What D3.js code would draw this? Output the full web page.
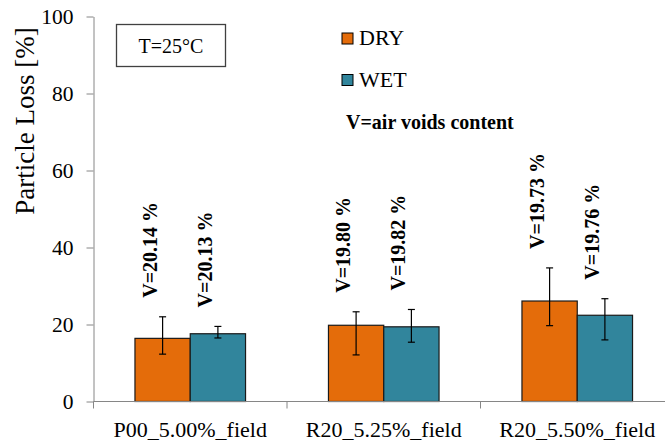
<!DOCTYPE html>
<html>
<head>
<meta charset="utf-8">
<script src="https://cdn.jsdelivr.net/npm/d3@7"></script>
<style>
  html, body { margin: 0; padding: 0; background: #fff; }
  svg { display: block; }
  text { font-family: "Liberation Serif", "Times New Roman", serif; fill: #000; }
</style>
</head>
<body>
<svg id="chart" width="665" height="443"></svg>
<script>
// Mix designs on the category axis
const categories = ["P00_5.00%_field", "R20_5.25%_field", "R20_5.50%_field"];
const seriesNames = ["DRY", "WET"];

// Mean particle loss [%] per mix
const dryValues = [16.4, 19.8, 26.1];
const wetValues = [17.6, 19.4, 22.4];

// Error bar limits [%]
const dryHigh = [22.0, 23.3, 34.7];
const dryLow  = [12.3, 12.1, 19.7];
const wetHigh = [19.5, 23.9, 26.7];
const wetLow  = [16.5, 15.4, 16.0];

// Air voids content printed above each bar
const dryVoids = ["V=20.14 %", "V=19.80 %", "V=19.73 %"];
const wetVoids = ["V=20.13 %", "V=19.82 %", "V=19.76 %"];

const yTicks = [0, 20, 40, 60, 80, 100];

const colors = { DRY: "#E46C0A", WET: "#31859C" };
const axisColor = "#868686";

const rows = [];
categories.forEach((c, i) => {
  rows.push({ cat: c, series: "DRY", value: dryValues[i], hi: dryHigh[i], lo: dryLow[i], label: dryVoids[i] });
  rows.push({ cat: c, series: "WET", value: wetValues[i], hi: wetHigh[i], lo: wetLow[i], label: wetVoids[i] });
});

const svg = d3.select("#chart");

const plotLeft = 93.5, plotBottom = 401.5, plotTop = 16.5;
const step = 193.5;

const x = d3.scaleBand().domain(categories).range([plotLeft, plotLeft + step * categories.length]).padding(0);
const xs = d3.scaleBand().domain(seriesNames).range([0, x.bandwidth()]).paddingInner(0).paddingOuter(0.75);
const y = d3.scaleLinear().domain([0, 100]).range([plotBottom, plotTop]);

// Y axis
const yAxis = svg.append("g")
  .attr("transform", `translate(${plotLeft},0)`)
  .call(d3.axisLeft(y).tickValues(yTicks).tickSize(7).tickSizeOuter(0).tickPadding(13));
yAxis.select(".domain").attr("stroke", axisColor);
yAxis.selectAll(".tick line").attr("stroke", axisColor);
yAxis.selectAll(".tick text")
  .attr("font-size", 21.5)
  .attr("fill", "#000");

// Y axis title
svg.append("text")
  .attr("transform", `translate(34,121) rotate(-90)`)
  .attr("text-anchor", "middle")
  .attr("font-size", 27)
  .text("Particle Loss [%]");

// Bars
svg.append("g").selectAll("rect")
  .data(rows)
  .join("rect")
  .attr("x", d => x(d.cat) + xs(d.series))
  .attr("y", d => y(d.value))
  .attr("width", xs.bandwidth())
  .attr("height", d => y(0) - y(d.value))
  .attr("fill", d => colors[d.series])
  .attr("stroke", "#1a1a1a")
  .attr("stroke-width", 1.2);

// Error bars
const err = svg.append("g").attr("stroke", "#000").attr("stroke-width", 1.2);
rows.forEach(d => {
  const cx = x(d.cat) + xs(d.series) + xs.bandwidth() / 2;
  err.append("line").attr("x1", cx).attr("x2", cx).attr("y1", y(d.hi)).attr("y2", y(d.lo));
  err.append("line").attr("x1", cx - 3.5).attr("x2", cx + 3.5).attr("y1", y(d.hi)).attr("y2", y(d.hi));
  err.append("line").attr("x1", cx - 3.5).attr("x2", cx + 3.5).attr("y1", y(d.lo)).attr("y2", y(d.lo));
});

// Air voids labels, vertical, above each error bar
svg.append("g").selectAll("text")
  .data(rows)
  .join("text")
  .attr("transform", d => {
    const cx = x(d.cat) + xs(d.series) + xs.bandwidth() / 2;
    return `translate(${cx - 6},${y(d.hi) - 19}) rotate(-90)`;
  })
  .attr("text-anchor", "start")
  .attr("font-size", 20)
  .attr("font-weight", "bold")
  .text(d => d.label);

// X axis line (runs to the right edge)
svg.append("line")
  .attr("x1", plotLeft).attr("x2", 665)
  .attr("y1", plotBottom).attr("y2", plotBottom)
  .attr("stroke", axisColor);

// Category boundary ticks
const bounds = categories.map(c => x(c)).concat([x(categories[categories.length - 1]) + x.bandwidth()]);
svg.append("g").selectAll("line")
  .data(bounds)
  .join("line")
  .attr("x1", d => d).attr("x2", d => d)
  .attr("y1", plotBottom).attr("y2", plotBottom + 7)
  .attr("stroke", axisColor);

// Category labels
svg.append("g").selectAll("text")
  .data(categories)
  .join("text")
  .attr("x", d => x(d) + x.bandwidth() / 2)
  .attr("y", 437)
  .attr("text-anchor", "middle")
  .attr("font-size", 22)
  .text(d => d);

// Temperature box
svg.append("rect")
  .attr("x", 116.5).attr("y", 24.5)
  .attr("width", 109).attr("height", 42)
  .attr("fill", "#fff")
  .attr("stroke", "#404040")
  .attr("stroke-width", 1.3);
svg.append("text")
  .attr("x", 171).attr("y", 52.5)
  .attr("text-anchor", "middle")
  .attr("font-size", 20)
  .text("T=25°C");

// Legend
const legend = svg.append("g");
seriesNames.forEach((s, i) => {
  const ly = 33 + i * 41.5;
  legend.append("rect")
    .attr("x", 342).attr("y", ly)
    .attr("width", 11).attr("height", 11)
    .attr("fill", colors[s])
    .attr("stroke", "#000")
    .attr("stroke-width", 1);
  legend.append("text")
    .attr("x", 359).attr("y", ly + 12)
    .attr("font-size", 22)
    .text(s);
});
legend.append("text")
  .attr("x", 346).attr("y", 128.5)
  .attr("font-size", 20)
  .attr("font-weight", "bold")
  .text("V=air voids content");
</script>
</body>
</html>
